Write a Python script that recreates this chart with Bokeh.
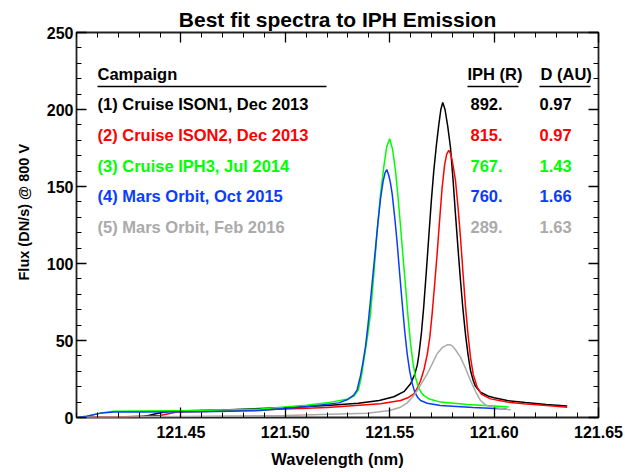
import numpy as np
from bokeh.plotting import figure
from bokeh.models import (Range1d, FixedTicker, LinearAxis, Label, BoxAnnotation,
                          PrintfTickFormatter, Title)
from bokeh.embed import file_html
from bokeh.resources import INLINE

FONT = "Liberation Sans"

# ---------------- data ----------------
x_ticks = [121.45, 121.50, 121.55, 121.60, 121.65]
y_ticks = [0, 50, 100, 150, 200, 250]

campaigns = ["(1) Cruise ISON1, Dec 2013", "(2) Cruise ISON2, Dec 2013",
             "(3) Cruise IPH3,  Jul 2014", "(4) Mars Orbit, Oct 2015",
             "(5) Mars Orbit, Feb 2016"]
iph_values = ["892.", "815.", "767.", "760.", "289."]
distances = ["0.97", "0.97", "1.43", "1.66", "1.63"]
colors = ["#000000", "#ff0000", "#00ff00", "#0a3cff", "#aaaaaa"]

wl_ison1 = [121.425, 121.432, 121.438, 121.445, 121.47, 121.50, 121.52, 121.535, 121.545,
            121.552, 121.557, 121.560, 121.562, 121.5632, 121.564, 121.5652, 121.5663,
            121.5675, 121.5687, 121.5699, 121.5711, 121.5723, 121.5735, 121.5745, 121.5754,
            121.5765, 121.5778, 121.5791, 121.5803, 121.5815, 121.5827, 121.5839, 121.5851,
            121.5863, 121.5875, 121.5887, 121.590, 121.591, 121.5935, 121.597, 121.600,
            121.6063, 121.615, 121.625, 121.635]
fx_ison1 = [0, 0.5, 2.5, 4.2, 4.8, 6.5, 7.8, 9.2, 11.0, 13.5, 17, 21.9, 28, 34, 41, 55, 72,
            94, 117, 140, 160, 176, 190, 200, 204.5, 200, 189, 175.5, 155, 132, 110, 89, 70,
            54, 41, 30.5, 24, 20.5, 16.4, 14, 12.8, 11, 9.7, 8.5, 7.5]

wl_ison2 = [121.40, 121.42, 121.44, 121.448, 121.47, 121.50, 121.52, 121.5456, 121.5552,
            121.559, 121.5616, 121.5632, 121.5648, 121.5664, 121.568, 121.5692, 121.5703,
            121.5715, 121.5727, 121.5739, 121.5751, 121.5763, 121.5773, 121.5783, 121.5793,
            121.5803, 121.5815, 121.5827, 121.5839, 121.5851, 121.5863, 121.5875, 121.5887,
            121.590, 121.5919, 121.594, 121.5983, 121.6063, 121.6142, 121.625, 121.635]
fx_ison2 = [0, 0.3, 1.3, 3.5, 4.3, 5.6, 6.5, 8.9, 11, 13, 15.3, 19, 24, 31, 41, 52, 67, 86,
            106, 128, 149, 164, 171, 173.4, 171, 164, 154, 137, 117, 94, 72, 54, 39, 28, 19.7,
            15, 12.1, 10, 8.9, 7.8, 6.7]

wl_iph3 = [121.40, 121.405, 121.412, 121.418, 121.43, 121.46, 121.488, 121.51, 121.52,
           121.53, 121.533, 121.535, 121.5364, 121.5376, 121.5392, 121.5408, 121.5424,
           121.544, 121.5456, 121.5472, 121.5486, 121.550, 121.5514, 121.5528, 121.554,
           121.5552, 121.5564, 121.5576, 121.5588, 121.560, 121.5612, 121.5624, 121.5638,
           121.5652, 121.5663, 121.569, 121.5743, 121.5871, 121.600, 121.607]
fx_iph3 = [0, 0.8, 3, 4, 4.2, 4.5, 5.5, 8, 9.5, 12, 14, 18, 26, 37, 51, 67, 93, 121, 145,
           163, 176, 181, 174, 160, 143, 124, 104, 85, 65, 48, 35, 26, 19.5, 16, 14.3, 12, 10,
           8.4, 7.4, 6.8]

wl_mars1 = [121.40, 121.405, 121.412, 121.418, 121.43, 121.46, 121.488, 121.51, 121.5256,
            121.5296, 121.5312, 121.5328, 121.5344, 121.536, 121.5372, 121.5384, 121.5396,
            121.5408, 121.542, 121.5432, 121.5444, 121.5456, 121.5468, 121.5478, 121.5486,
            121.5496, 121.5504, 121.5512, 121.5524, 121.5536, 121.5548, 121.556, 121.5572,
            121.5584, 121.5596, 121.5608, 121.562, 121.5634, 121.5648, 121.568, 121.5743,
            121.590, 121.606]
fx_mars1 = [0, 0.8, 3, 3.5, 3.6, 3.8, 4.5, 7, 9.5, 11.5, 13, 14.5, 18, 27, 36, 46, 60, 76,
            93, 110, 127, 142, 153, 159, 161, 157, 152, 145, 130, 113, 93, 74, 56, 41, 30, 22,
            16.5, 13, 11, 9.3, 7.8, 6.5, 5.5]

wl_mars2 = [121.40, 121.45, 121.50, 121.5392, 121.55, 121.5552, 121.5584, 121.5608,
            121.5632, 121.5656, 121.568, 121.5704, 121.5727, 121.5752, 121.5776, 121.5788,
            121.580, 121.5815, 121.5839, 121.5863, 121.5887, 121.5911, 121.5935, 121.596,
            121.600, 121.608]
fx_mars2 = [0, 0.6, 1.3, 2.8, 4.5, 6.7, 9.5, 13, 17.5, 23, 28.4, 35, 41.4, 45.5, 47.2, 47.2,
            46.5, 44, 39.2, 32, 24, 17, 11, 8, 6.5, 5]

series = [(wl_ison1, fx_ison1), (wl_ison2, fx_ison2), (wl_iph3, fx_iph3),
          (wl_mars1, fx_mars1), (wl_mars2, fx_mars2)]

# ---------------- layout ----------------
W, H = 625, 472
FL, FR, FT, FB = 76, 27, 32, 55  # frame borders inside the figure

p = figure(width=W, height=H, output_backend="svg", toolbar_location=None,
           x_range=Range1d(121.40, 121.65), y_range=Range1d(0, 250),
           min_border_left=FL, min_border_right=FR, min_border_top=FT,
           min_border_bottom=FB)
p.xgrid.visible = False
p.ygrid.visible = False
p.outline_line_color = "#222222"
p.outline_line_width = 1.8
p.background_fill_color = "white"
p.border_fill_color = "white"

p.title.text = "Best fit spectra to IPH Emission"
p.title.align = "center"
p.title.text_font = FONT
p.title.text_font_style = "bold"
p.title.text_font_size = "21px"
p.title.text_color = "black"
p.title.standoff = 4

x_minor = [round(121.40 + 0.01 * i, 2) for i in range(26)]
y_minor = list(range(0, 251, 10))


def style_axis(ax, show_labels):
    ax.axis_line_color = None
    ax.major_tick_line_color = "black"
    ax.minor_tick_line_color = "black"
    ax.major_tick_line_width = 1.3
    ax.minor_tick_line_width = 1.0
    ax.major_tick_in = 10
    ax.major_tick_out = 0
    ax.minor_tick_in = 5
    ax.minor_tick_out = 0
    ax.major_label_text_font = FONT
    ax.major_label_text_font_style = "bold"
    ax.major_label_text_font_size = "16px" if show_labels else "0px"
    ax.major_label_text_color = "black" if show_labels else None
    if not show_labels:
        ax.major_label_standoff = 0


xt = FixedTicker(ticks=x_ticks, minor_ticks=x_minor)
yt = FixedTicker(ticks=y_ticks, minor_ticks=y_minor)

p.xaxis.ticker = xt
p.xaxis.formatter = PrintfTickFormatter(format="%.2f")
p.yaxis.ticker = yt
p.yaxis.formatter = PrintfTickFormatter(format="%d")
for ax in p.xaxis:
    style_axis(ax, True)
    ax.major_label_standoff = 8
    ax.axis_label = "Wavelength (nm)"
    ax.axis_label_text_font = FONT
    ax.axis_label_text_font_style = "bold"
    ax.axis_label_text_font_size = "16.5px"
    ax.axis_label_text_color = "black"
    ax.axis_label_standoff = 9
for ax in p.yaxis:
    style_axis(ax, True)
    ax.major_label_standoff = 3

top = LinearAxis(ticker=FixedTicker(ticks=x_ticks, minor_ticks=x_minor))
style_axis(top, False)
p.add_layout(top, "above")
right = LinearAxis(ticker=FixedTicker(ticks=y_ticks, minor_ticks=y_minor))
style_axis(right, False)
p.add_layout(right, "right")

ylab = Title(text="Flux (DN/s) @ 800 V", align="left", offset=137,
             text_font=FONT, text_font_style="bold", text_font_size="14.5px",
             text_color="black", standoff=24)
p.add_layout(ylab, "left")

for (wl, fx), c in zip(series, colors):
    p.line(wl, fx, line_color=c, line_width=1.5)

# page-pixel helpers (frame left edge at page x=FL, frame bottom at page y=H-FB)
PX0, PY0 = FL, H - FB


def add_text(text, px, py, color="black", size="16.5px", align="left"):
    p.add_layout(Label(x=px - PX0, y=PY0 - py, x_units="screen", y_units="screen",
                       text=text, text_color=color, text_font=FONT,
                       text_font_style="bold", text_font_size=size,
                       text_align=align, text_baseline="middle"))


def add_rule(px1, px2, py):
    p.add_layout(BoxAnnotation(left=px1 - PX0, right=px2 - PX0,
                               bottom=PY0 - py - 0.7, top=PY0 - py + 0.7,
                               left_units="screen", right_units="screen",
                               bottom_units="screen", top_units="screen",
                               fill_color="black", fill_alpha=1.0, line_color=None))


add_text("Campaign", 97, 73)
add_text("IPH (R)", 467, 73)
add_text("D (AU)", 540, 73)
add_rule(97, 326, 86)
add_rule(467, 518, 86)
add_rule(539, 590, 86)

row_y = [103.3, 134, 165, 195.8, 226.7]
for name, iph, d, c, ry in zip(campaigns, iph_values, distances, colors, row_y):
    add_text(name, 97, ry, color=c)
    add_text(iph, 470, ry, color=c)
    add_text(d, 539, ry, color=c)

open("out.html", "w").write(file_html(p, INLINE))
